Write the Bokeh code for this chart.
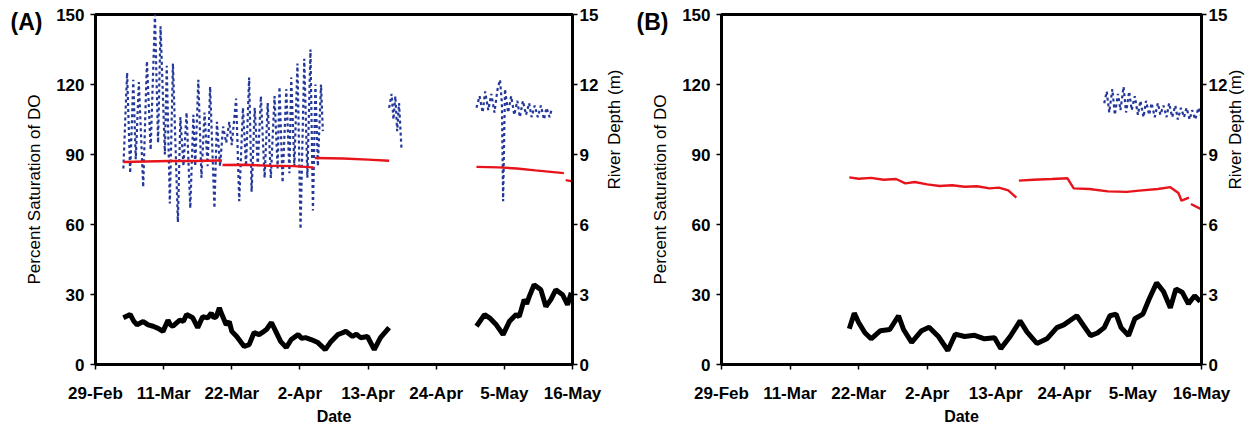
import math
import numpy as np
from bokeh.plotting import figure
from bokeh.models import Range1d, LinearAxis, FixedTicker
from bokeh.layouts import row
from bokeh.embed import file_html
from bokeh.resources import INLINE

nan = float("nan")

# x axis: days since 29-Feb
tick_days = [0, 11, 22, 33, 44, 55, 66, 77]
tick_labels = ["29-Feb", "11-Mar", "22-Mar", "2-Apr", "13-Apr", "24-Apr", "5-May", "16-May"]
do_ticks = [0, 30, 60, 90, 120, 150]
depth_ticks = [0, 3, 6, 9, 12, 15]

# ---------------- Panel A ----------------
blue_a_day = [4.5, 5.1, 5.6, 6.1, 6.5, 7.0, 7.7, 8.3, 8.9, 9.6, 10.1, 10.5, 11.2, 11.5, 12.0, 12.5,
              13.3, 13.7, 14.2, 14.7, 15.3, 15.8, 16.1, 16.6, 17.1, 17.6, 18.1, 18.5, 19.2, 19.6,
              20.1, 20.6, 21.1, 21.6, 22.0, 22.7, 23.2, 23.8, 24.3, 24.8, 25.2, 25.7, 26.2, 26.7,
              27.3, 27.8, 28.3, 28.9, 29.4, 29.7, 30.2, 30.8, 31.3, 31.6, 32.1, 32.6, 33.1, 33.7,
              34.2, 34.7, 35.1, 35.5, 35.9, 36.4, 36.7, nan,
              47.4, 47.8, 48.1, 48.4, 48.7, 49.0, 49.4, nan,
              61.5, 62.0, 62.5, 62.9, 63.4, 63.9, 64.4, 64.9, 65.3, 65.6, 65.8, 66.1, 66.6, 67.1,
              67.6, 68.1, 68.5, 69.0, 69.5, 70.0, 70.4, 70.9, 71.4, 71.9, 72.4, 72.8, 73.3, 73.6]
blue_a_val = [84, 125, 82, 122, 88, 121, 76, 130, 92, 150, 95, 145, 90, 128, 69, 129,
              61, 106, 85, 108, 67, 107, 85, 122, 80, 108, 85, 119, 67, 104,
              85, 102, 95, 104, 94, 114, 70, 110, 85, 123, 74, 110, 85, 115,
              80, 112, 80, 115, 84, 119, 78, 118, 82, 123, 85, 129, 58, 131,
              80, 135, 66, 120, 85, 120, 100, nan,
              110, 116, 105, 115, 100, 112, 92, nan,
              110, 115, 108, 117, 109, 116, 108, 118, 122, 112, 70, 118, 108, 115,
              107, 113, 106, 113, 107, 112, 106, 111, 106, 111, 105, 110, 106, 109]

red_a_day = [4.5, 8, 12, 16, 20, 20.4, nan, 20.5, 24, 28, 32, 35, 35.3, nan,
             35.4, 40, 44, 47.4, nan, 61.5, 65, 68, 71, 75.6, nan, 75.9, 77]
red_a_val = [86.8, 87.0, 87.2, 87.2, 87.4, 87.6, nan, 85.5, 85.6, 85.2, 85.0, 84.5, 84.2, nan,
             88.5, 88.3, 87.8, 87.3, nan, 84.7, 84.5, 84.0, 83.2, 82.0, nan, 79.0, 78.5]

black_a_day = [4.5, 5.6, 6.2, 6.7, 7.7, 8.5, 9.3, 10.1, 10.9, 11.7, 12.1, 12.5, 13.6, 14.2, 14.7,
               15.7, 16.5, 17.3, 18.1, 18.7, 19.1, 19.5, 20.0, 20.4, 21.1, 21.6, 22.0, 22.8,
               24.0, 24.8, 25.6, 26.4, 27.2, 27.6, 28.4, 29.1, 29.9, 30.8, 31.6, 32.7, 33.3,
               33.9, 34.8, 35.9, 37.1, 38.0, 39.1, 39.8, 40.4, 41.5, 42.1, 42.8, 43.9, 45.0,
               46.0, 47.4, nan,
               61.5, 62.8, 63.6, 64.7, 65.8, 66.8, 67.9, 68.4, 69.2, 69.6, 70.0, 70.8, 71.9,
               72.7, 73.5, 74.3, 75.4, 76.2, 76.8]
black_a_val = [2.0, 2.14, 1.85, 1.7, 1.84, 1.7, 1.64, 1.55, 1.42, 1.9, 1.7, 1.64, 1.9, 1.85,
               2.14, 2.0, 1.58, 2.05, 2.0, 2.2, 2.0, 2.05, 2.43, 2.14, 1.7, 1.84, 1.42, 1.2,
               0.77, 0.85, 1.37, 1.28, 1.42, 1.5, 1.8, 1.42, 0.98, 0.73, 1.07, 1.28, 1.12,
               1.15, 1.07, 0.94, 0.64, 0.98, 1.28, 1.35, 1.42, 1.2, 1.3, 1.15, 1.2, 0.64,
               1.15, 1.58, nan,
               1.64, 2.14, 2.0, 1.7, 1.28, 1.84, 2.14, 2.05, 2.78, 2.6, 2.9, 3.42, 3.2,
               2.48, 2.78, 3.2, 2.99, 2.56, 3.08]

# ---------------- Panel B ----------------
blue_b_day = [61.4, 61.8, 62.2, 62.7, 63.1, 63.6, 64.0, 64.5, 64.9, 65.4, 65.8, 66.3, 66.8, 67.2,
              67.7, 68.1, 68.6, 69.0, 69.5, 70.0, 70.4, 70.9, 71.4, 71.8, 72.3, 72.8, 73.2, 73.7,
              74.2, 74.6, 75.1, 75.5, 76.0, 76.5, 77.0]
blue_b_val = [112, 117, 108, 118, 107, 116, 109, 119, 108, 117, 109, 115, 107, 113,
              106, 113, 107, 112, 106, 112, 107, 111, 106, 112, 106, 111, 105, 110,
              106, 110, 105, 109, 105, 110, 106]

red_b_day = [20.5, 22, 24, 26, 28, 29.5, 31, 33, 35, 37, 39, 41, 43, 44.5, 46, 47.3, nan,
             47.7, 50, 53, 55.5, 56.5, 59, 62, 65, 67, 70, 72, 73.3, 73.8, 75.0, nan, 75.3, 77]
red_b_val = [80.2, 79.6, 80.0, 79.2, 79.5, 77.6, 78.2, 77.2, 76.5, 76.8, 76.2, 76.4, 75.5, 75.8,
             74.6, 71.5, nan,
             78.8, 79.2, 79.5, 79.8, 75.5, 75.2, 74.2, 74.0, 74.5, 75.2, 76.0, 73.5, 70.2, 71.5,
             nan, 68.8, 66.5]

black_b_day = [20.5, 21.3, 22.0, 23.0, 24.0, 25.5, 27.0, 28.4, 29.2, 30.5, 32.1, 33.3, 34.8,
               36.3, 37.5, 39.0, 40.6, 42.2, 43.8, 44.8, 46.3, 47.9, 49.0, 50.6, 52.2, 53.8,
               54.9, 57.0, 58.1, 59.2, 60.3, 61.4, 62.3, 63.3, 64.1, 65.3, 66.3, 67.6, 68.6,
               69.8, 70.9, 72.0, 72.9, 73.9, 74.9, 75.9, 76.8]
black_b_val = [1.53, 2.2, 1.8, 1.36, 1.1, 1.45, 1.5, 2.09, 1.5, 0.95, 1.45, 1.6, 1.2,
               0.6, 1.3, 1.2, 1.25, 1.1, 1.15, 0.68, 1.2, 1.87, 1.4, 0.9, 1.1, 1.58,
               1.7, 2.09, 1.66, 1.24, 1.35, 1.58, 2.09, 2.16, 1.58, 1.24, 1.96, 2.16, 2.81,
               3.5, 3.13, 2.43, 3.24, 3.1, 2.6, 2.95, 2.7]

FONT = "Liberation Sans"
BLUE = "#24389a"
RED = "#e8141c"


def make_panel(tag, w, left, right, tag_offset, right_label_standoff, right_title_standoff,
               blue, red, black):
    p = figure(width=w, height=427, output_backend="svg", toolbar_location=None,
               x_range=Range1d(0, 77), y_range=Range1d(0, 150),
               min_border_left=left, min_border_right=right,
               min_border_top=14, min_border_bottom=62)
    p.extra_y_ranges = {"depth": Range1d(0, 15)}
    p.xgrid.visible = False
    p.ygrid.visible = False
    p.outline_line_color = "black"
    p.outline_line_width = 3
    p.outline_line_alpha = 1
    p.background_fill_color = "white"
    p.border_fill_color = "white"

    # panel tag drawn as the (un-clipped) title, pulled down beside the frame top
    p.title.text = tag
    p.title.align = "left"
    p.title.offset = tag_offset
    p.title.standoff = -40
    p.title.text_font = FONT
    p.title.text_font_style = "bold"
    p.title.text_font_size = "23px"
    p.title.text_color = "black"

    p.line(blue[0], blue[1], color=BLUE, line_width=2.2, line_dash="3 3")
    p.line(red[0], red[1], color=RED, line_width=2.4)
    p.line(black[0], black[1], color="black", line_width=5, y_range_name="depth")

    right_axis = LinearAxis(y_range_name="depth", axis_label="River Depth (m)")
    p.add_layout(right_axis, "right")

    for ax in [p.xaxis[0], p.yaxis[0], right_axis]:
        ax.axis_line_width = 3
        ax.major_tick_line_width = 1.5
        ax.major_tick_out = 5
        ax.major_tick_in = 0
        ax.minor_tick_out = 0
        ax.minor_tick_in = 0
        ax.major_label_text_font = FONT
        ax.major_label_text_font_style = "bold"
        ax.major_label_text_font_size = "17px"
        ax.major_label_text_color = "black"
        ax.axis_label_text_font = FONT
        ax.axis_label_text_color = "black"

    p.xaxis.ticker = FixedTicker(ticks=tick_days)
    p.xaxis.major_label_overrides = {d: l for d, l in zip(tick_days, tick_labels)}
    p.xaxis.axis_label = "Date"
    p.xaxis.axis_label_text_font_style = "bold"
    p.xaxis.axis_label_text_font_size = "16px"
    p.xaxis.major_label_standoff = 14
    p.xaxis.axis_label_standoff = 2

    p.yaxis[0].ticker = FixedTicker(ticks=do_ticks)
    p.yaxis[0].axis_label = "Percent Saturation of DO"
    p.yaxis[0].axis_label_text_font_style = "normal"
    p.yaxis[0].axis_label_text_font_size = "17px"
    p.yaxis[0].major_label_standoff = 6
    p.yaxis[0].axis_label_standoff = 9

    right_axis.ticker = FixedTicker(ticks=depth_ticks)
    right_axis.axis_label_text_font_style = "normal"
    right_axis.axis_label_text_font_size = "17px"
    right_axis.major_label_standoff = right_label_standoff
    right_axis.axis_label_standoff = right_title_standoff
    try:
        right_axis.axis_label_orientation = math.pi / 2
    except Exception:
        pass
    return p


pA = make_panel("(A)", 636, 95, 59, -85, 2, 13,
                (blue_a_day, blue_a_val), (red_a_day, red_a_val), (black_a_day, black_a_val))
pB = make_panel("(B)", 621, 85, 51, -85, 2, 5,
                (blue_b_day, blue_b_val), (red_b_day, red_b_val), (black_b_day, black_b_val))

layout = row(pA, pB)
open("out.html", "w").write(file_html(layout, INLINE))
